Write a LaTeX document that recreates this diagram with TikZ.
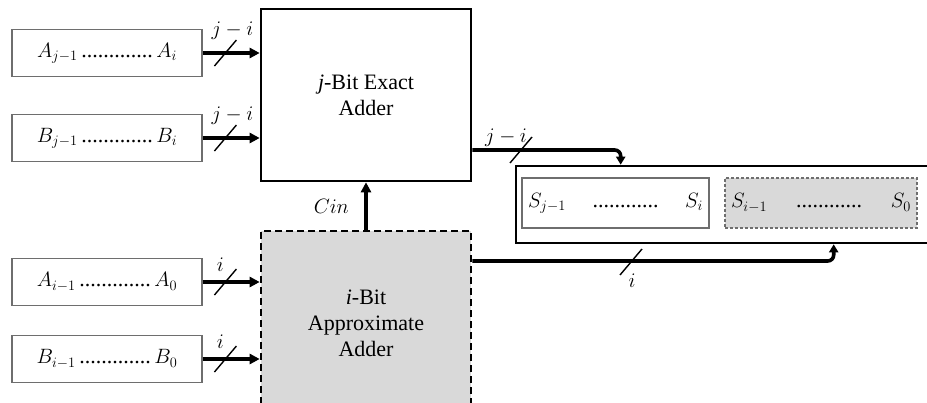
\documentclass[tikz,border=0pt]{standalone}
\usepackage{fontspec}
\setmainfont{Liberation Serif}
\usetikzlibrary{arrows.meta,positioning,calc}
\definecolor{shade}{RGB}{217,217,217}
\definecolor{frame}{RGB}{110,110,110}
\tikzset{
  >={Triangle[length=10pt,width=10pt]},
  big/.style={font=\fontsize{22}{26}\selectfont},
  inbox/.style={draw=frame,line width=1.2pt,minimum width=190,minimum height=47,inner sep=0pt,big},
  adder/.style={draw=black,line width=2.6pt,minimum width=210,align=center,inner sep=0pt,big},
  sumbox/.style={draw=frame,line width=1.2pt,minimum height=50,inner sep=6pt,big},
  bus/.style={line width=3.6pt},
  outbus/.style={line width=3.6pt,rounded corners=6pt,-{Triangle[length=8pt,width=9pt]}},
  slash/.style={line width=1.4pt},
  buslabel/.style={font=\fontsize{20}{24}\selectfont,inner sep=0pt},
}
\begin{document}
\begin{tikzpicture}[x=1pt,y=-1pt]
  \useasboundingbox (0,0) rectangle (927,402);
  \clip (0,0) rectangle (927,402);
  % adders
  \node[adder,minimum height=172] (exact) at (366,95) {\textit{j}-Bit Exact\\Adder};
  \node[adder,minimum height=184,fill=shade,dash pattern=on 7pt off 4pt] (approx) at (366,323) {\textit{i}-Bit\\Approximate\\Adder};
  % operand registers
  \node[inbox] (ain) at (107,53) {$A_{j-1}$\,.............\,$A_i$};
  \node[inbox] (bin) at (107,138) {$B_{j-1}$\,.............\,$B_i$};
  \node[inbox] (ai) at (107,282) {$A_{i-1}$\,.............\,$A_0$};
  \node[inbox] (bi) at (107,359) {$B_{i-1}$\,.............\,$B_0$};
  \foreach \n/\a/\l/\dx/\dy in {ain/exact/j-i/7/-22,bin/exact/j-i/7/-22,ai/approx/i/-5/-17,bi/approx/i/-5/-17}{
    \draw[bus,->] (\n.east) -- (\n.east -| \a.west);
    \coordinate (m) at ($(\n.east)!0.4!(\n.east -| \a.west)$);
    \draw[slash] (m) +(-11,13) -- +(11,-13);
    \node[buslabel] (lab-\n) at ($(m)+(\dx,\dy)$) {$\l$};
  }
  % result register
  \node[draw=black,line width=2.6pt,minimum width=424,minimum height=77,inner sep=0pt] (outer) at (728,204.5) {};
  \node[sumbox,text width=175] (sj) at (615.5,203) {$S_{j-1}$\hfill............\hfill$S_i$};
  \node[sumbox,text width=180,fill=shade,dash pattern=on 3pt off 2pt] (si) at (821,203) {$S_{i-1}$\hfill............\hfill$S_0$};
  % carry and outputs
  \draw[bus,->] (approx.north) -- (exact.south) node[midway,left=12pt,big] (cin) {$Cin$};
  \draw[outbus] ([yshift=-55pt]exact.east) -| ([xshift=106pt]outer.north west);
  \draw[slash] (521,150) +(-11,13) -- +(11,-13);
  \node[buslabel] (lab-eo) at (506,138) {$j-i$};
  \draw[outbus] ([yshift=62pt]approx.east) -| ([xshift=319pt]outer.south west);
  \draw[slash] (631,262) +(-11,13) -- +(11,-13);
  \node[buslabel] (lab-ao) at (632,281) {$i$};
\end{tikzpicture}
\end{document}
